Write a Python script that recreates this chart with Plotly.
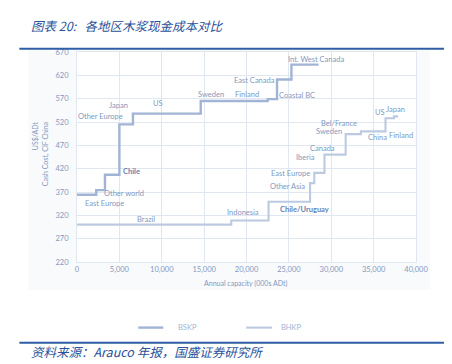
import plotly.graph_objects as go

# ---- data (capacity in 000s ADt, cash cost US$/ADt) ----
bskp_x = [0, 2270, 3300, 5000, 6600, 14600, 22500, 23600, 25300, 28500]
bskp_y = [364, 374, 407, 515, 538, 565, 569, 611, 643, 643]

bhkp_x = [0, 18200, 22600, 27500, 28000, 29200, 31700, 33500, 36400, 37400, 37900]
bhkp_y = [300, 309, 349, 389, 411, 450, 494, 500, 528, 532, 532]

bskp_labels = ["East Europe", "Other world", "<b>Chile</b>", "Other Europe", "Japan", "US",
               "Sweden", "Finland", "East Canada", "Coastal BC", "Int. West Canada"]
bskp_lx = [3300, 5500, 6400, 2800, 4900, 9500, 15800, 20000, 20900, 25900, 28200]
bskp_ly = [346, 366, 415, 532, 555, 560, 580, 578, 610, 576, 653]

bhkp_labels = ["Brazil", "Indonesia", "<b>Chile/Uruguay</b>", "Other Asia", "East Europe", "Iberia",
               "Canada", "Sweden", "Bel/France", "China", "Finland", "US", "Japan"]
bhkp_lx = [8100, 19600, 26900, 24800, 25200, 27000, 29000, 29700, 30900, 35400, 38200, 35800, 37600]
bhkp_ly = [312, 326, 333, 382, 409.5, 444.7, 464, 500, 517.6, 486.7, 491, 539.8, 546]

x_range = [0, 40000]
y_range = [220, 670]

title_text = "图表 20:&nbsp;&nbsp;&nbsp;各地区木浆现金成本对比"
source_text = "资料来源：Arauco 年报，国盛证券研究所"
legend_names = ["BSKP", "BHKP"]

# ---- geometry helpers ----
W, H = 452, 364
L, R, T, B = 76.7, 416.0, 52.3, 262.0
def px(xp):
    return (xp - L) / (R - L)
def py(yp):
    return (B - yp) / (B - T)

C_BSKP = "#a2b4d5"
C_BHKP = "#bccae1"
C_TXT = "#8299c0"
C_DARK = "#6a83b2"
C_BLUE = "#2f5ea6"
FONT = "Lato"

fig = go.Figure()
fig.add_trace(go.Scatter(x=bskp_x, y=bskp_y, mode="lines", line=dict(shape="hv", color=C_BSKP, width=2.4),
                         name=legend_names[0], showlegend=False, hoverinfo="skip"))
fig.add_trace(go.Scatter(x=bhkp_x, y=bhkp_y, mode="lines", line=dict(shape="hv", color=C_BHKP, width=2.1),
                         name=legend_names[1], showlegend=False, hoverinfo="skip"))

ann = []
for t, x, y in zip(bskp_labels + bhkp_labels, bskp_lx + bhkp_lx, bskp_ly + bhkp_ly):
    ann.append(dict(x=x, y=y, xref="x", yref="y", text=t, showarrow=False,
                    font=dict(family=FONT, size=7.5, color=C_DARK if "<b>" in t else C_TXT)))

# axis titles
ann.append(dict(x=px(40), y=py(154), xref="paper", yref="paper", text="US$/ADt<br>Cash Cost, CIF China",
                textangle=-90, align="right", showarrow=False, xanchor="center", yanchor="middle",
                font=dict(family=FONT, size=7, color=C_TXT)))
ann.append(dict(x=px(246), y=py(283.5), xref="paper", yref="paper", text="Annual capacity (000s ADt)",
                showarrow=False, xanchor="center", yanchor="middle",
                font=dict(family=FONT, size=7, color=C_TXT)))
# title and source
ann.append(dict(x=px(29), y=py(25.5), xref="paper", yref="paper", text="<i>" + title_text + "</i>",
                showarrow=False, xanchor="left", yanchor="middle",
                font=dict(family="Noto Sans CJK SC", size=12.5, color="#2a519a")))
ann.append(dict(x=px(29), y=py(351.5), xref="paper", yref="paper", text="<i>" + source_text + "</i>",
                showarrow=False, xanchor="left", yanchor="middle",
                font=dict(family="Noto Sans CJK SC", size=12.5, color="#2a519a")))
# legend text
ann.append(dict(x=px(176), y=py(327.5), xref="paper", yref="paper", text=legend_names[0], showarrow=False,
                xanchor="left", yanchor="middle", font=dict(family=FONT, size=7.5, color="#a3b4d0")))
ann.append(dict(x=px(279), y=py(327.5), xref="paper", yref="paper", text=legend_names[1], showarrow=False,
                xanchor="left", yanchor="middle", font=dict(family=FONT, size=7.5, color="#a3b4d0")))

shapes = [
    dict(type="rect", xref="paper", yref="paper", x0=px(28), x1=px(430), y0=py(50), y1=py(290),
         fillcolor="#f9fafc", line=dict(width=0), layer="below"),
    dict(type="rect", xref="paper", yref="paper", x0=0, x1=1, y0=0, y1=1,
         fillcolor="white", line=dict(width=0), layer="below"),
    dict(type="line", xref="paper", yref="paper", x0=px(19), x1=px(444), y0=py(49), y1=py(49),
         line=dict(color=C_BLUE, width=2)),
    dict(type="line", xref="paper", yref="paper", x0=px(19), x1=px(444), y0=py(342.7), y1=py(342.7),
         line=dict(color=C_BLUE, width=2)),
    dict(type="line", xref="paper", yref="paper", x0=px(138), x1=px(163), y0=py(327.5), y1=py(327.5),
         line=dict(color=C_BSKP, width=2.4)),
    dict(type="line", xref="paper", yref="paper", x0=px(246), x1=px(272), y0=py(327.5), y1=py(327.5),
         line=dict(color=C_BHKP, width=2.1)),
]

GRID = "#e1e7f1"
fig.update_layout(
    width=W, height=H,
    margin=dict(l=L, r=W - R, t=T, b=H - B, pad=0),
    paper_bgcolor="white", plot_bgcolor="rgba(0,0,0,0)",
    showlegend=False,
    annotations=ann, shapes=shapes,
    xaxis=dict(range=x_range, tick0=0, dtick=5000, tickformat=",", showgrid=True, gridcolor=GRID,
               gridwidth=1, zeroline=False, showline=True, linecolor=GRID, mirror=True,
               ticks="", ticklen=0, tickfont=dict(family=FONT, size=7.5, color=C_TXT)),
    yaxis=dict(range=y_range, tick0=220, dtick=50, showgrid=True, gridcolor=GRID, gridwidth=1,
               zeroline=False, showline=True, linecolor=GRID, mirror=True,
               ticks="outside", ticklen=6, tickcolor="rgba(0,0,0,0)",
               tickfont=dict(family=FONT, size=7.5, color=C_TXT)),
)

fig.write_html("out.html")
